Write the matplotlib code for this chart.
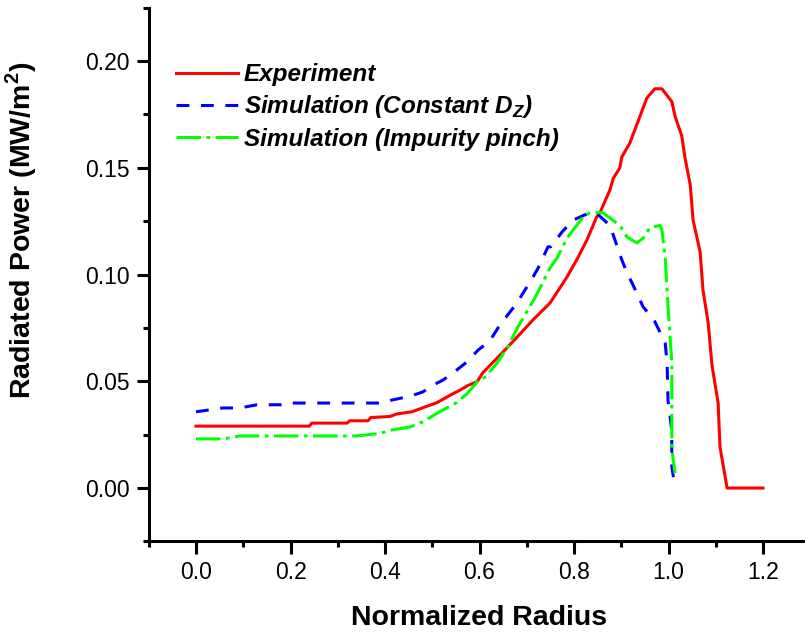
import matplotlib
matplotlib.use('Agg')
import matplotlib.pyplot as plt
from matplotlib.ticker import MultipleLocator

plt.rcParams['font.family'] = ['Liberation Sans', 'DejaVu Sans']

# Experiment
exp_x = [0.0, 0.24, 0.245, 0.32, 0.325, 0.364, 0.37, 0.41, 0.425, 0.457, 0.485, 0.51,
         0.538, 0.56, 0.575, 0.595, 0.607, 0.658, 0.713, 0.749, 0.785, 0.806, 0.827,
         0.848, 0.855, 0.876, 0.883, 0.897, 0.901, 0.918, 0.936, 0.954, 0.971, 0.986,
         1.007, 1.014, 1.028, 1.035, 1.046, 1.052, 1.067, 1.073, 1.084, 1.092, 1.105,
         1.109, 1.124, 1.2]
exp_y = [0.029, 0.029, 0.0304, 0.0304, 0.0315, 0.0315, 0.033, 0.0335, 0.0347, 0.0357,
         0.038, 0.040, 0.0435, 0.046, 0.048, 0.0498, 0.054, 0.0656, 0.0787, 0.0866,
         0.0988, 0.107, 0.116, 0.127, 0.129, 0.1396, 0.145, 0.150, 0.155, 0.1615,
         0.172, 0.1826, 0.187, 0.187, 0.181, 0.174, 0.165, 0.1546, 0.142, 0.1255,
         0.1105, 0.0927, 0.0773, 0.0576, 0.0398, 0.0192, 0.0, 0.0]

# Simulation (Constant D_Z)
dz_x = [0.0, 0.057, 0.093, 0.129, 0.193, 0.2, 0.39, 0.41, 0.453, 0.48, 0.50, 0.523,
        0.552, 0.573, 0.597, 0.622, 0.643, 0.679, 0.711, 0.724, 0.745, 0.751, 0.775,
        0.798, 0.834, 0.851, 0.876, 0.901, 0.914, 0.923, 0.946, 0.971, 0.982, 0.993,
        0.997, 0.999, 1.007, 1.007, 1.014]
dz_y = [0.0357, 0.0375, 0.0375, 0.039, 0.039, 0.0398, 0.0398, 0.041, 0.043, 0.045,
        0.048, 0.0506, 0.0553, 0.059, 0.0646, 0.069, 0.0763, 0.0866, 0.098, 0.103,
        0.113, 0.113, 0.12, 0.1255, 0.129, 0.128, 0.123, 0.107, 0.0998, 0.096, 0.085,
        0.078, 0.073, 0.068, 0.0586, 0.041, 0.027, 0.010, 0.0]

# Simulation (Impurity pinch)
ip_x = [0.0, 0.057, 0.093, 0.34, 0.39, 0.41, 0.453, 0.48, 0.51, 0.552, 0.575, 0.595,
        0.612, 0.637, 0.66, 0.68, 0.696, 0.717, 0.728, 0.749, 0.764, 0.785, 0.802,
        0.82, 0.834, 0.861, 0.897, 0.912, 0.933, 0.946, 0.961, 0.982, 0.986, 0.993,
        0.999, 1.007, 1.007, 1.014]
ip_y = [0.023, 0.023, 0.0244, 0.0244, 0.0256, 0.027, 0.0286, 0.031, 0.035, 0.040,
        0.0445, 0.0497, 0.052, 0.0585, 0.066, 0.075, 0.081, 0.089, 0.0937, 0.103,
        0.1077, 0.117, 0.122, 0.127, 0.129, 0.129, 0.123, 0.1176, 0.1148, 0.117,
        0.122, 0.123, 0.121, 0.108, 0.085, 0.0586, 0.018, 0.007]

fig = plt.figure(figsize=(8.05, 6.36), dpi=100)
ax = fig.add_axes([148.75 / 805, 94.6 / 636, 661.5 / 805, 533.75 / 636])

ax.plot(exp_x, exp_y, color='#ff0000', lw=2.2, label='Experiment')
ax.plot(dz_x, dz_y, color='#0000ff', lw=2.2, ls=(0, (4.2, 3.8)),
        label=r'Simulation (Constant D$_\mathregular{Z}$)')
ax.plot(ip_x, ip_y, color='#00ff00', lw=2.2, ls=(0, (8, 1.8, 1.2, 1.8)),
        label='Simulation (Impurity pinch)')

ax.set_xlim(-0.1, 1.3)
ax.set_ylim(-0.025, 0.225)
ax.xaxis.set_minor_locator(MultipleLocator(0.1))
ax.yaxis.set_minor_locator(MultipleLocator(0.025))
ax.set_xticks([0.0, 0.2, 0.4, 0.6, 0.8, 1.0, 1.2])
ax.set_yticks([0.0, 0.05, 0.10, 0.15, 0.20])
ax.xaxis.set_major_formatter(lambda v, p: f'{v:.1f}')
ax.yaxis.set_major_formatter(lambda v, p: f'{v:.2f}')

for s in ['top', 'right']:
    ax.spines[s].set_visible(False)
for s in ['left', 'bottom']:
    ax.spines[s].set_linewidth(2.2)
ax.tick_params(which='major', direction='out', length=9, width=2.2, labelsize=16.5, pad=5)
ax.tick_params(which='minor', direction='out', length=4.5, width=2.2)

ax.set_xlabel('Normalized Radius', fontsize=20.5, fontweight='bold')
ax.set_ylabel(r'Radiated Power (MW/m$^\mathregular{2}$)', fontsize=20.5, fontweight='bold')
ax.xaxis.set_label_coords(0.5, -0.119)
ax.yaxis.set_label_coords(-0.166, 0.583)

ax.legend(loc='upper left', bbox_to_anchor=(0.041, 0.896), frameon=False,
          prop={'size': 17.5, 'weight': 'bold', 'style': 'italic'},
          handlelength=2.55, handletextpad=0.25, labelspacing=0.3,
          borderpad=0, borderaxespad=0)

plt.savefig('out.png', dpi=100)
